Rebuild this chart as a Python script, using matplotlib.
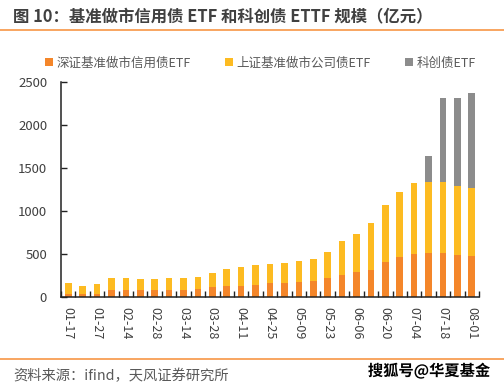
import numpy as np
import matplotlib
matplotlib.use("Agg")
import matplotlib.pyplot as plt
import matplotlib.patheffects as pe
from matplotlib.lines import Line2D

plt.rcParams['font.family'] = ['Noto Sans CJK SC', 'DejaVu Sans']

# data (亿元)
dates = ['01-17', '01-24', '01-27', '02-07', '02-14', '02-21', '02-28', '03-07',
         '03-14', '03-21', '03-28', '04-03', '04-11', '04-18', '04-25', '04-30',
         '05-09', '05-16', '05-23', '05-30', '06-06', '06-13', '06-20', '06-27',
         '07-04', '07-11', '07-18', '07-25', '08-01']
sz = [38, 35, 35, 85, 85, 85, 85, 85, 85, 97, 120, 131, 131, 143, 157,
      159, 174, 186, 225, 260, 295, 318, 403, 469, 504, 516, 516, 492, 481]
sh_total = [166, 131, 155, 221, 221, 209, 209, 221, 221, 233, 283, 329, 345, 368, 380,
            395, 415, 442, 523, 647, 736, 857, 1066, 1224, 1322, 1337, 1337, 1291, 1264]
kc_total = [0] * 25 + [1636, 2310, 2310, 2372]

sz = np.array(sz)
sh = np.array(sh_total) - sz
kc = np.where(np.array(kc_total) > 0, np.array(kc_total) - np.array(sh_total), 0)

c_sz = '#F4862A'
c_sh = '#FDBB21'
c_kc = '#8C8C8C'
txt = '#404040'

fig = plt.figure(figsize=(5.04, 3.87), dpi=100)
ax = fig.add_axes([61 / 504, 1 - 297 / 387, 418 / 504, 215 / 387])

x = np.arange(len(dates))
w = 0.46
b1 = ax.bar(x, sz, w, color=c_sz, label='深证基准做市信用债ETF')
b2 = ax.bar(x, sh, w, bottom=sz, color=c_sh, label='上证基准做市公司债ETF')
b3 = ax.bar(x, kc, w, bottom=sz + sh, color=c_kc, label='科创债ETF')

ax.set_xlim(-0.5, len(dates) - 0.5)
ax.set_ylim(0, 2500)
ax.set_yticks(np.arange(0, 2501, 500))

ax.set_xticks(x[::2])
ax.set_xticklabels(dates[::2], rotation=-90, fontsize=9, color=txt)
ax.set_xticks(np.arange(-0.5, len(dates), 1), minor=True)
ax.tick_params(axis='x', which='major', length=0, pad=7)
ax.tick_params(axis='x', which='minor', direction='in', length=4, width=1, color='#222222')
ax.tick_params(axis='y', direction='in', length=4, width=1, color='#222222',
               labelsize=9.5, labelcolor=txt, pad=10)

for s in ['top', 'right']:
    ax.spines[s].set_visible(False)
for s in ['left', 'bottom']:
    ax.spines[s].set_color('#222222')
    ax.spines[s].set_linewidth(1.1)

fig.legend(handles=[b1, b2, b3], loc='center left', bbox_to_anchor=(45 / 504, 1 - 63 / 387),
           ncol=3, frameon=False, fontsize=9, handlelength=0.65, handleheight=0.65,
           handletextpad=0.3, columnspacing=2.7, borderpad=0, borderaxespad=0,
           labelcolor='#595959')

# title and lines
fig.text(13 / 504, 1 - 16 / 387, '图 10：基准做市信用债 ETF 和科创债 ETTF 规模（亿元）',
         fontsize=11.8, fontweight='bold', color=txt, va='center', ha='left')
fig.add_artist(Line2D([0, 1], [1 - 30 / 387] * 2, color='#F79646', lw=1.2))
fig.add_artist(Line2D([0, 1], [1 - 359 / 387] * 2, color='#F79646', lw=1.2))

fig.text(13 / 504, 1 - 376 / 387, '资料来源：ifind，天风证券研究所',
         fontsize=10.3, color='#595959', va='center', ha='left')
fig.text(490 / 504, 1 - 371 / 387, '搜狐号@华夏基金', fontsize=11, fontweight='bold',
         color='black', va='center', ha='right',
         path_effects=[pe.withStroke(linewidth=2, foreground='white')])

fig.savefig('out.png', dpi=100)
